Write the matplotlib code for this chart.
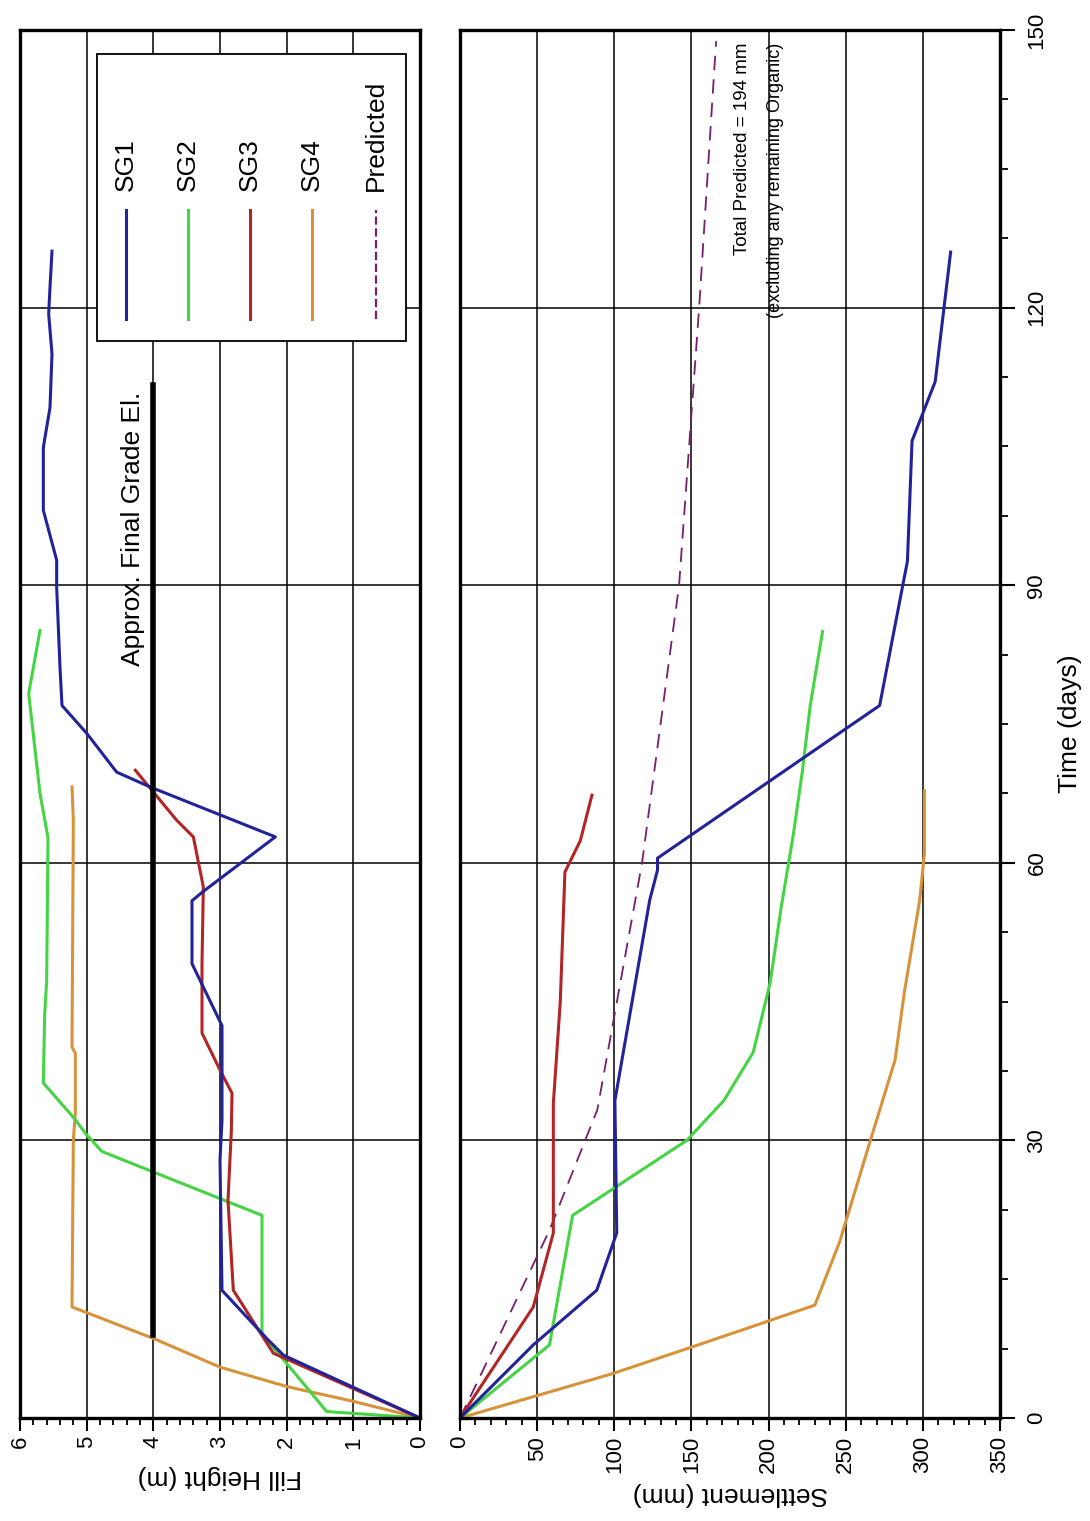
import matplotlib
matplotlib.use("Agg")
import matplotlib.pyplot as plt
from matplotlib.patches import Rectangle
from matplotlib.ticker import MultipleLocator

plt.rcParams['font.family'] = ['Liberation Sans', 'DejaVu Sans']

# ---- fill height data (time in days, fill in m) ----
sg1_fill_t = [0, 6.8, 8.6, 13.8, 27.9, 32.2, 42.4, 49.1, 55.9, 56.8, 62.8, 68.2, 69.8,
              74, 77, 81.1, 89.8, 92.7, 98.1, 104.9, 109.2, 115, 119.3, 122.2, 126.1]
sg1_fill = [0, 2.05, 2.3, 2.97, 3.0, 2.97, 2.97, 3.42, 3.42, 3.27, 2.17, 4.05, 4.55,
            5.0, 5.37, 5.4, 5.45, 5.45, 5.65, 5.65, 5.55, 5.52, 5.57, 5.55, 5.52]
sg2_fill_t = [0, 0.7, 5.9, 9.0, 21.9, 28.8, 30.6, 32.5, 36.2, 43.6, 47.2, 62.7, 67.5, 78.3, 85.1]
sg2_fill = [0, 1.4, 2.0, 2.37, 2.37, 4.77, 5.0, 5.2, 5.65, 5.63, 5.6, 5.58, 5.7, 5.87, 5.7]
sg3_fill_t = [0, 7, 13.8, 23.5, 31, 35.1, 37.6, 41.6, 49.1, 57.4, 62.8, 64.6, 70]
sg3_fill = [0, 2.2, 2.8, 2.88, 2.83, 2.82, 3.0, 3.27, 3.27, 3.25, 3.4, 3.65, 4.27]
sg4_fill_t = [0, 1.8, 3.4, 5.5, 8.6, 12.0, 30, 33, 39.4, 40.1, 64.6, 68.2]
sg4_fill = [0, 1.0, 2.0, 3.0, 4.0, 5.22, 5.2, 5.17, 5.17, 5.22, 5.2, 5.22]

final_grade = 4.0
final_grade_t = [9.0, 111.6]

# ---- settlement data (time in days, settlement in mm) ----
sg1_set_t = [0, 7.9, 13.8, 20, 34.3, 56, 59.2, 60.5, 77, 92.6, 105.6, 112, 126]
sg1_set = [0, 47.5, 88.6, 101.6, 100.4, 123, 128, 128, 272, 290, 293, 308, 318]
sg2_set_t = [0, 7.9, 21.9, 30, 34.3, 39.5, 47, 55, 63, 70, 77, 85]
sg2_set = [0, 58, 73, 147, 171, 190, 201, 208, 216, 222, 227, 235]
sg3_set_t = [0, 12, 20, 34, 45, 59, 62.4, 67.3]
sg3_set = [0, 47.5, 60.5, 60.5, 65, 68, 78, 85.5]
sg4_set_t = [0, 4.8, 7.6, 9.8, 12.2, 19, 30, 38.7, 46, 56, 61, 67.8]
sg4_set = [0, 99, 149, 188, 230, 246, 266, 282, 288, 298, 301, 301]
pred_t = [0, 3.8, 20.3, 33.3, 60, 90, 120, 148.8]
pred_set = [0, 11, 58, 89, 118, 142, 155, 166]

names = ['SG1', 'SG2', 'SG3', 'SG4', 'Predicted']
colors = ['#22229a', '#44d444', '#b22525', '#d8923a', '#7a1d6e']

W, H = 1090, 1521
fig = plt.figure(figsize=(W / 100, H / 100), dpi=100)
ax1 = fig.add_axes([20 / W, (H - 1418) / H, 400 / W, 1388 / H])
ax2 = fig.add_axes([460 / W, (H - 1418) / H, 540 / W, 1388 / H])

lw = 2.2
for ax in (ax1, ax2):
    ax.set_ylim(0, 150)
    ax.yaxis.set_major_locator(MultipleLocator(30))
    ax.yaxis.set_minor_locator(MultipleLocator(7.5))
    ax.grid(True, which='major', color='black', lw=1.1)
    ax.set_axisbelow(True)
    for s in ax.spines.values():
        s.set_linewidth(2.4)
    ax.tick_params(axis='x', which='major', length=9, width=1.5, labelsize=16,
                   labelrotation=90, pad=4)
    ax.tick_params(axis='x', which='minor', length=5, width=1.3)

# ---- fill height panel ----
ax1.set_xlim(6, 0)
ax1.xaxis.set_major_locator(MultipleLocator(1))
ax1.xaxis.set_minor_locator(MultipleLocator(0.2))
ax1.tick_params(axis='y', which='both', left=False, labelleft=False)
ax1.plot(sg4_fill, sg4_fill_t, color=colors[3], lw=lw)
ax1.plot(sg2_fill, sg2_fill_t, color=colors[1], lw=lw)
ax1.plot(sg3_fill, sg3_fill_t, color=colors[2], lw=lw)
ax1.plot(sg1_fill, sg1_fill_t, color=colors[0], lw=lw)
ax1.plot([final_grade, final_grade], final_grade_t, color='black', lw=4)
ax1.text(4.3, 81.3, 'Approx. Final Grade El.', rotation=90, ha='center', va='bottom',
         fontsize=19)
ax1.set_xlabel('Fill Height (m)', rotation=180, fontsize=19, labelpad=12)

# legend drawn by hand so the entries can be rotated like the rest of the chart
ax1.add_patch(Rectangle((0.21, 116.4), 4.64, 31.0, facecolor='white', edgecolor='black',
                        lw=1.3, zorder=5))
leg_x = [4.41, 3.48, 2.55, 1.62, 0.66]
for i, (nm, c) in enumerate(zip(names, colors)):
    ls = '--' if nm == 'Predicted' else '-'
    w = 1.6 if nm == 'Predicted' else lw
    ax1.plot([leg_x[i], leg_x[i]], [118.8, 130.5], color=c, lw=w, ls=ls, zorder=6)
    ax1.text(leg_x[i], 132.6, nm, rotation=90, ha='center', va='bottom', fontsize=19,
             zorder=6)

# ---- settlement panel ----
ax2.set_xlim(0, 350)
ax2.xaxis.set_major_locator(MultipleLocator(50))
ax2.xaxis.set_minor_locator(MultipleLocator(10))
ax2.yaxis.tick_right()
ax2.yaxis.set_label_position('right')
ax2.tick_params(axis='y', which='major', length=11, width=1.5, labelsize=16,
                labelrotation=90, pad=8)
ax2.tick_params(axis='y', which='minor', length=6, width=1.3)
for lab in ax2.get_yticklabels():
    lab.set_va('center')
ax2.plot(pred_set, pred_t, color=colors[4], lw=1.3, ls=(0, (8, 5)))
ax2.plot(sg4_set, sg4_set_t, color=colors[3], lw=lw)
ax2.plot(sg2_set, sg2_set_t, color=colors[1], lw=lw)
ax2.plot(sg3_set, sg3_set_t, color=colors[2], lw=lw)
ax2.plot(sg1_set, sg1_set_t, color=colors[0], lw=lw)
ax2.text(183.4, 148.6, 'Total Predicted = 194 mm', rotation=90, ha='center', va='top',
         fontsize=13.5)
ax2.text(204.6, 148.6, '(excluding any remaining Organic)', rotation=90, ha='center',
         va='top', fontsize=13)
ax2.set_xlabel('Settlement (mm)', rotation=180, fontsize=19, labelpad=6)
ax2.set_ylabel('Time (days)', fontsize=19, labelpad=8)

fig.savefig('out.png', dpi=100)
